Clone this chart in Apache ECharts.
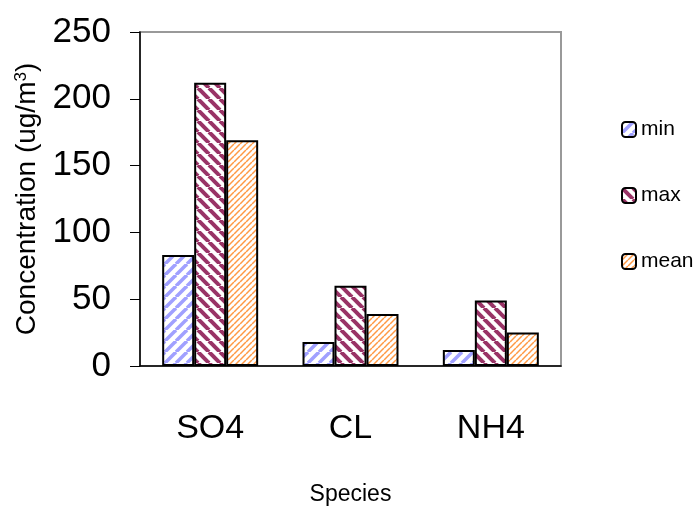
<!DOCTYPE html>
<html>
<head>
<meta charset="utf-8">
<script src="https://cdn.jsdelivr.net/npm/echarts@6/dist/echarts.min.js"></script>
<style>
  html, body { margin: 0; padding: 0; background: #fff; }
  #chart { width: 699px; height: 507px; }
</style>
</head>
<body>
<div id="chart"></div>
<script>
  const species = ['SO4', 'CL', 'NH4']
  const minValues = [83, 18, 12]
  const maxValues = [212, 60, 49]
  const meanValues = [169, 39, 25]
  const yTicks = [0, 50, 100, 150, 200, 250]

  const sans = '"Liberation Sans", Arial, sans-serif'

  // diagonal hatch tile, dir 1 = "/" and -1 = "\"
  function hatch(color, period, width, dir) {
    const c = document.createElement('canvas')
    c.width = period
    c.height = period
    const ctx = c.getContext('2d')
    ctx.fillStyle = '#fff'
    ctx.fillRect(0, 0, period, period)
    ctx.strokeStyle = color
    ctx.lineWidth = width
    for (let i = -1; i <= 1; i++) {
      ctx.beginPath()
      if (dir > 0) {
        ctx.moveTo(i * period, period)
        ctx.lineTo(i * period + period, 0)
      } else {
        ctx.moveTo(i * period, 0)
        ctx.lineTo(i * period + period, period)
      }
      ctx.stroke()
    }
    return { image: c, repeat: 'repeat' }
  }

  const barStyle = (fill) => ({
    color: fill,
    borderColor: '#000',
    borderWidth: 2,
  })

  const chart = echarts.init(document.getElementById('chart'))
  chart.setOption({
    animation: false,
    grid: {
      left: 140,
      right: 138,
      top: 32,
      bottom: 141,
      containLabel: false,
      outerBoundsMode: 'none',
      show: true,
      borderColor: '#999',
      borderWidth: 2,
    },
    legend: {
      orient: 'vertical',
      left: 621,
      top: 119,
      padding: 0,
      itemWidth: 14,
      itemHeight: 15,
      itemGap: 45,
      textStyle: { fontFamily: sans, fontSize: 21, color: '#000' },
      data: ['min', 'max', 'mean'],
    },
    xAxis: {
      type: 'category',
      data: species,
      name: 'Species',
      nameLocation: 'middle',
      nameGap: 117,
      nameTextStyle: { fontFamily: sans, fontSize: 23, color: '#000' },
      axisLine: { lineStyle: { color: '#000', width: 1.5 } },
      axisTick: { length: 12, lineStyle: { color: '#000' } },
      axisLabel: { fontFamily: sans, fontSize: 34, color: '#000', margin: 46 },
    },
    yAxis: {
      type: 'value',
      min: yTicks[0],
      max: yTicks[yTicks.length - 1],
      interval: 50,
      name: 'Concentration (ug/m{sup|3})',
      nameLocation: 'middle',
      nameGap: 98,
      nameTextStyle: {
        fontFamily: sans,
        fontSize: 28,
        color: '#000',
        rich: {
          sup: { fontFamily: sans, fontSize: 17, color: '#000', padding: [0, 0, 12, 0] },
        },
      },
      splitLine: { show: false },
      axisLine: { show: true, lineStyle: { color: '#000', width: 1.5 } },
      axisTick: { show: true, length: 10, lineStyle: { color: '#000' } },
      axisLabel: { fontFamily: sans, fontSize: 35, color: '#000', margin: 29 },
    },
    series: [
      {
        name: 'min',
        type: 'bar',
        data: minValues,
        barGap: '0%',
        barCategoryGap: '31.6%',
        itemStyle: barStyle(hatch('#a0a0ff', 11, 3.5, 1)),
      },
      {
        name: 'max',
        type: 'bar',
        data: maxValues,
        barGap: '0%',
        barCategoryGap: '31.6%',
        itemStyle: barStyle(hatch('#993366', 11, 4, -1)),
      },
      {
        name: 'mean',
        type: 'bar',
        data: meanValues,
        barGap: '0%',
        barCategoryGap: '31.6%',
        itemStyle: barStyle(hatch('#ff9944', 6, 1.5, 1)),
      },
    ],
  })
</script>
</body>
</html>
